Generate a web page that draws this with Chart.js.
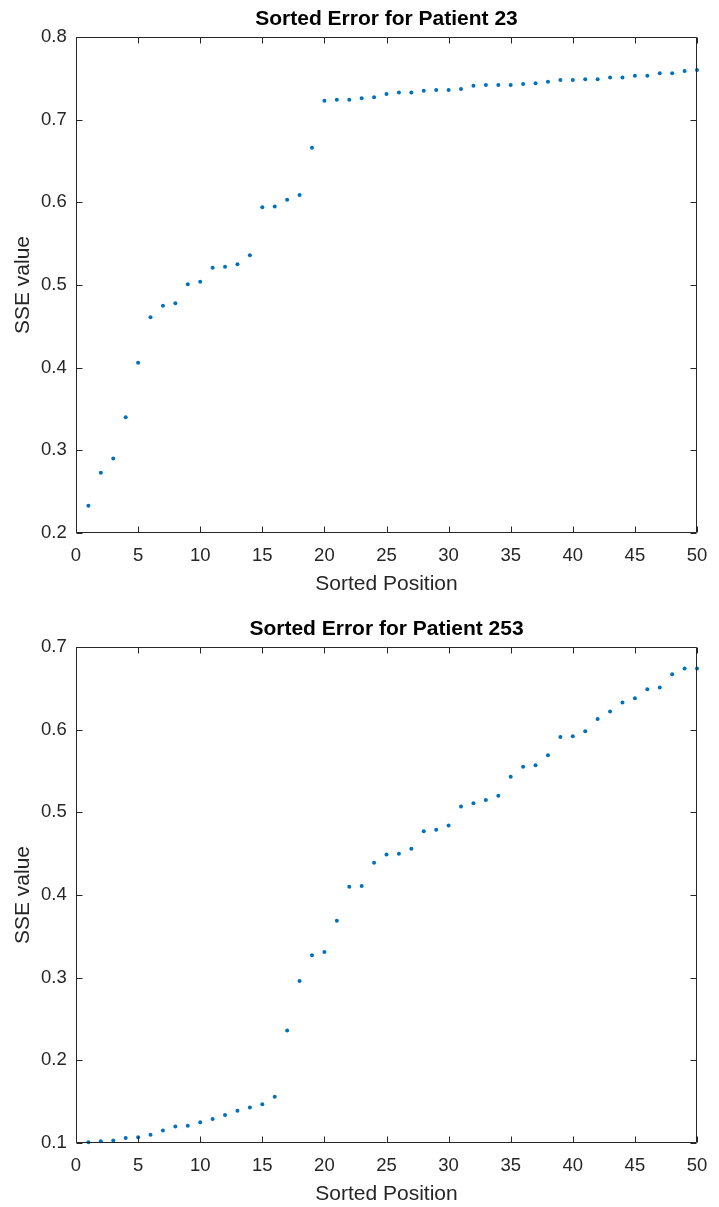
<!DOCTYPE html>
<html>
<head>
<meta charset="utf-8">
<script src="https://cdn.jsdelivr.net/npm/chart.js@4"></script>
<style>
  html, body { margin: 0; padding: 0; background: #ffffff; overflow: hidden; }
  .panel { position: absolute; left: 0; width: 719px; height: 600px; }
  #p1 { top: 0; }
  #p2 { top: 610px; }
</style>
</head>
<body>
<div class="panel" id="p1"><canvas id="c1" width="719" height="600"></canvas></div>
<div class="panel" id="p2"><canvas id="c2" width="719" height="600"></canvas></div>
<script>
// Sorted SSE values per patient, position 1..50
const positions = Array.from({ length: 50 }, (_, i) => i + 1);

const patient23Errors = [
  0.233, 0.273, 0.290, 0.340, 0.406, 0.461, 0.475, 0.478, 0.501, 0.504,
  0.521, 0.522, 0.525, 0.536, 0.594, 0.595, 0.603, 0.609, 0.666, 0.723,
  0.724, 0.724, 0.726, 0.727, 0.731, 0.733, 0.733, 0.735, 0.736, 0.736,
  0.737, 0.741, 0.742, 0.742, 0.742, 0.743, 0.744, 0.746, 0.748, 0.748,
  0.749, 0.749, 0.751, 0.751, 0.753, 0.753, 0.756, 0.756, 0.759, 0.760
];

const patient253Errors = [
  0.101, 0.102, 0.103, 0.106, 0.107, 0.110, 0.115, 0.120, 0.121, 0.125,
  0.129, 0.134, 0.139, 0.143, 0.147, 0.156, 0.236, 0.296, 0.327, 0.331,
  0.369, 0.410, 0.411, 0.439, 0.449, 0.450, 0.456, 0.477, 0.479, 0.484,
  0.507, 0.511, 0.515, 0.520, 0.543, 0.555, 0.557, 0.569, 0.591, 0.592,
  0.598, 0.613, 0.622, 0.633, 0.638, 0.649, 0.651, 0.667, 0.674, 0.674
];

const xTickValues = [0, 5, 10, 15, 20, 25, 30, 35, 40, 45, 50];
const yTicks23 = [0.2, 0.3, 0.4, 0.5, 0.6, 0.7, 0.8];
const yTicks253 = [0.1, 0.2, 0.3, 0.4, 0.5, 0.6, 0.7];

const FONT = "'Liberation Sans', Arial, Helvetica, sans-serif";
const AXIS_COLOR = '#262626';
const MARKER_COLOR = '#0072BD';
const TICK_LEN = 6;

// Axis box with inward tick marks on all four sides
const boxPlugin = {
  id: 'matlabBox',
  afterDatasetsDraw(chart) {
    const { ctx, chartArea: a, scales } = chart;
    const L = Math.round(a.left) + 0.5, R = Math.round(a.right) - 0.5;
    const T = Math.round(a.top) + 0.5, B = Math.round(a.bottom) - 0.5;
    ctx.save();
    ctx.strokeStyle = AXIS_COLOR;
    ctx.lineWidth = 1;
    ctx.beginPath();
    ctx.rect(L, T, R - L, B - T);
    scales.x.ticks.forEach(t => {
      const px = Math.round(scales.x.getPixelForValue(t.value)) + 0.5;
      ctx.moveTo(px, B); ctx.lineTo(px, B - TICK_LEN);
      ctx.moveTo(px, T); ctx.lineTo(px, T + TICK_LEN);
    });
    scales.y.ticks.forEach(t => {
      const py = Math.round(scales.y.getPixelForValue(t.value)) + 0.5;
      ctx.moveTo(L, py); ctx.lineTo(L + TICK_LEN, py);
      ctx.moveTo(R, py); ctx.lineTo(R - TICK_LEN, py);
    });
    ctx.stroke();
    ctx.restore();
  }
};

function makeChart(canvasId, titleText, values, yTicks) {
  const points = positions.map((p, i) => ({ x: p, y: values[i] }));
  return new Chart(document.getElementById(canvasId), {
    type: 'scatter',
    data: {
      datasets: [{
        data: points,
        pointRadius: 2,
        pointHoverRadius: 2,
        pointBorderWidth: 0,
        backgroundColor: MARKER_COLOR,
        borderColor: MARKER_COLOR,
        clip: false
      }]
    },
    options: {
      responsive: false,
      animation: false,
      devicePixelRatio: 1,
      layout: { padding: { left: 0, right: 14, top: 0, bottom: 0 } },
      plugins: {
        legend: { display: false },
        tooltip: { enabled: false },
        title: {
          display: true,
          fullSize: false,
          text: titleText,
          color: '#000000',
          font: { family: FONT, size: 21, weight: 'bold', lineHeight: 1.2 },
          padding: { top: 7, bottom: 4.8 }
        }
      },
      scales: {
        x: {
          type: 'linear',
          min: 0,
          max: 50,
          grid: { display: false, drawTicks: false },
          border: { display: false },
          afterBuildTicks: s => { s.ticks = xTickValues.map(v => ({ value: v })); },
          afterFit: s => { s.height = 67; },
          ticks: {
            color: AXIS_COLOR,
            padding: 11.7,
            font: { family: FONT, size: 18.5, lineHeight: 1.2 },
            maxRotation: 0,
            callback: v => String(v)
          },
          title: {
            display: true,
            text: 'Sorted Position',
            color: AXIS_COLOR,
            font: { family: FONT, size: 21, lineHeight: 1.2 },
            padding: { top: 0, bottom: 3.6 }
          }
        },
        y: {
          type: 'linear',
          min: yTicks[0],
          max: yTicks[yTicks.length - 1],
          grid: { display: false, drawTicks: false },
          border: { display: false },
          afterBuildTicks: s => { s.ticks = yTicks.map(v => ({ value: v })); },
          afterFit: s => { s.width = 76; },
          ticks: {
            color: AXIS_COLOR,
            padding: 9.3,
            font: { family: FONT, size: 18.5, lineHeight: 1.2 },
            callback: v => Number(v).toFixed(1)
          },
          title: {
            display: true,
            text: 'SSE value',
            color: AXIS_COLOR,
            font: { family: FONT, size: 21, lineHeight: 1.2 },
            padding: { top: 10.4, bottom: 0 }
          }
        }
      }
    },
    plugins: [boxPlugin]
  });
}

makeChart('c1', 'Sorted Error for Patient 23', patient23Errors, yTicks23);
makeChart('c2', 'Sorted Error for Patient 253', patient253Errors, yTicks253);
</script>
</body>
</html>
